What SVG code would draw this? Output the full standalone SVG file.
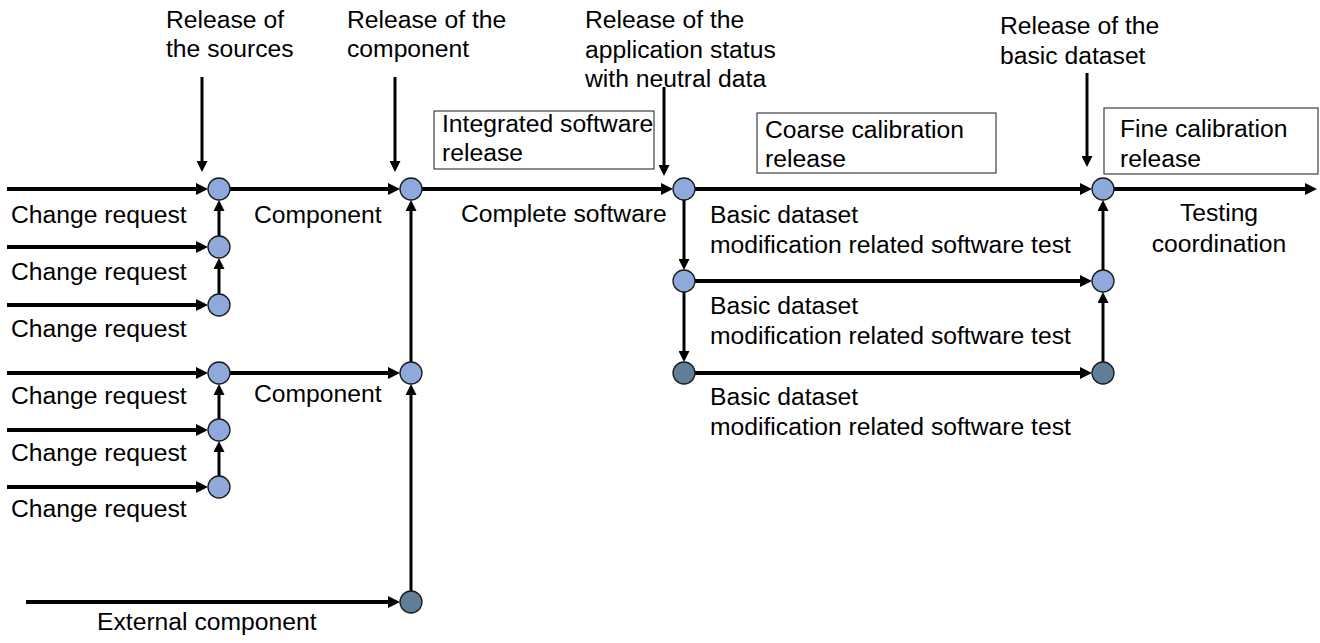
<svg xmlns="http://www.w3.org/2000/svg" width="1320" height="643" viewBox="0 0 1320 643">
<defs>
<style>
text{font-family:"Liberation Sans",Arial,sans-serif;font-size:24.7px;fill:#000}
.h{stroke:#000;stroke-width:4;fill:none;marker-end:url(#ah)}
.v{stroke:#000;stroke-width:3;fill:none;marker-end:url(#av)}
.n{fill:#8EA9DB;stroke:#1a1a1a;stroke-width:1.3}
.d{fill:#5F7F99;stroke:#1a1a1a;stroke-width:1.3}
.box{fill:#fff;stroke:#404040;stroke-width:1.2}
</style>
<marker id="ah" viewBox="0 0 12 12" refX="6" refY="6" markerWidth="12" markerHeight="12" markerUnits="userSpaceOnUse" orient="auto"><path d="M0,0 L12,6 L0,12 z" fill="#000"/></marker>
<marker id="av" viewBox="0 0 12 12" refX="6" refY="6" markerWidth="11" markerHeight="11" markerUnits="userSpaceOnUse" orient="auto"><path d="M0,0 L12,6 L0,12 z" fill="#000"/></marker>
</defs>
<rect width="1320" height="643" fill="#fff"/>
<g id="connectors">
<line class="h" x1="7" y1="189" x2="202" y2="189"/>
<line class="h" x1="7" y1="247" x2="202" y2="247"/>
<line class="h" x1="7" y1="305" x2="202" y2="305"/>
<line class="h" x1="7" y1="373" x2="202" y2="373"/>
<line class="h" x1="7" y1="430" x2="202" y2="430"/>
<line class="h" x1="7" y1="487" x2="202" y2="487"/>
<line class="h" x1="230" y1="189" x2="394" y2="189"/>
<line class="h" x1="230" y1="373" x2="394" y2="373"/>
<line class="h" x1="422" y1="189" x2="667" y2="189"/>
<line class="h" x1="695" y1="189" x2="1086" y2="189"/>
<line class="h" x1="695" y1="281" x2="1086" y2="281"/>
<line class="h" x1="695" y1="373" x2="1086" y2="373"/>
<line class="h" x1="1114" y1="189" x2="1311" y2="189"/>
<line class="h" x1="26" y1="602" x2="394" y2="602"/>
<line class="v" x1="219" y1="236" x2="219" y2="205.5"/>
<line class="v" x1="219" y1="294" x2="219" y2="263.5"/>
<line class="v" x1="219" y1="419" x2="219" y2="389.5"/>
<line class="v" x1="219" y1="476" x2="219" y2="446.5"/>
<line class="v" x1="411" y1="591" x2="411" y2="389.5"/>
<line class="v" x1="411" y1="362" x2="411" y2="205.5"/>
<line class="v" x1="684" y1="200" x2="684" y2="264.5"/>
<line class="v" x1="684" y1="292" x2="684" y2="356.5"/>
<line class="v" x1="1103" y1="362" x2="1103" y2="297.5"/>
<line class="v" x1="1103" y1="270" x2="1103" y2="205.5"/>
<line class="v" x1="202" y1="77" x2="202" y2="166.5"/>
<line class="v" x1="395" y1="77" x2="395" y2="166.5"/>
<line class="v" x1="664" y1="87" x2="664" y2="170.5"/>
<line class="v" x1="1087" y1="73" x2="1087" y2="161.5"/>
</g>
<g id="n-a1"><circle class="n" cx="219" cy="189" r="11"/></g>
<g id="n-a2"><circle class="n" cx="219" cy="247" r="11"/></g>
<g id="n-a3"><circle class="n" cx="219" cy="305" r="11"/></g>
<g id="n-a4"><circle class="n" cx="219" cy="373" r="11"/></g>
<g id="n-a5"><circle class="n" cx="219" cy="430" r="11"/></g>
<g id="n-a6"><circle class="n" cx="219" cy="487" r="11"/></g>
<g id="n-b1"><circle class="n" cx="411" cy="189" r="11"/></g>
<g id="n-b2"><circle class="n" cx="411" cy="373" r="11"/></g>
<g id="n-b3"><circle class="d" cx="411" cy="602" r="11"/></g>
<g id="n-c1"><circle class="n" cx="684" cy="189" r="11"/></g>
<g id="n-c2"><circle class="n" cx="684" cy="281" r="11"/></g>
<g id="n-c3"><circle class="d" cx="684" cy="373" r="11"/></g>
<g id="n-d1"><circle class="n" cx="1103" cy="189" r="11"/></g>
<g id="n-d2"><circle class="n" cx="1103" cy="281" r="11"/></g>
<g id="n-d3"><circle class="d" cx="1103" cy="373" r="11"/></g>
<g id="box-integrated"><rect class="box" x="434" y="111" width="220" height="58"/><text x="442" y="132">Integrated software</text><text x="442" y="161">release</text></g>
<g id="box-coarse"><rect class="box" x="757" y="113" width="239" height="60"/><text x="765" y="138">Coarse calibration</text><text x="765" y="167">release</text></g>
<g id="box-fine"><rect class="box" x="1104" y="108" width="214" height="66"/><text x="1120" y="137">Fine calibration</text><text x="1120" y="167">release</text></g>
<g id="labels">
<text x="166" y="28">Release of</text><text x="166" y="57">the sources</text>
<text x="347" y="28">Release of the</text><text x="347" y="57">component</text>
<text x="585" y="28">Release of the</text><text x="585" y="57.5">application status</text><text x="585" y="87">with neutral data</text>
<text x="1000" y="34">Release of the</text><text x="1000" y="64">basic dataset</text>
<text x="11" y="223">Change request</text>
<text x="11" y="280">Change request</text>
<text x="11" y="337">Change request</text>
<text x="11" y="404">Change request</text>
<text x="11" y="461">Change request</text>
<text x="11" y="517">Change request</text>
<text x="254" y="223">Component</text>
<text x="254" y="402">Component</text>
<text x="461" y="222">Complete software</text>
<text x="710" y="223">Basic dataset</text><text x="710" y="253">modification related software test</text>
<text x="710" y="314">Basic dataset</text><text x="710" y="344">modification related software test</text>
<text x="710" y="405">Basic dataset</text><text x="710" y="435">modification related software test</text>
<text x="1219" y="221" text-anchor="middle">Testing</text><text x="1219" y="252" text-anchor="middle">coordination</text>
<text x="97" y="630">External component</text>
</g>
</svg>
